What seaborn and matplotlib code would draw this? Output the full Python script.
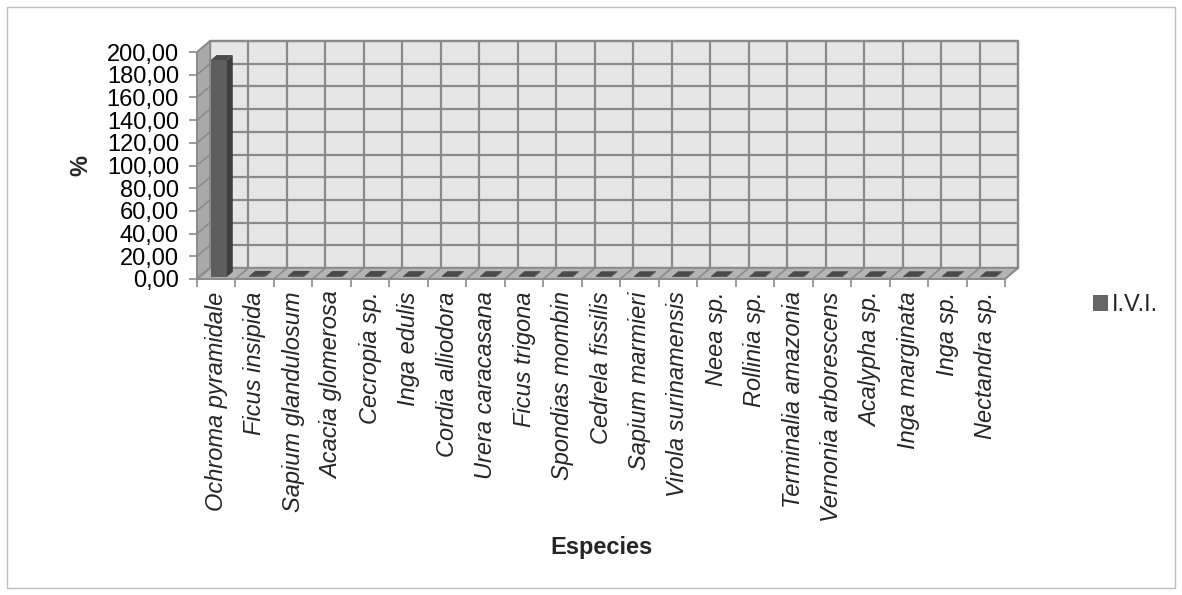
import matplotlib
matplotlib.use("Agg")
import matplotlib.pyplot as plt
from matplotlib.patches import Polygon, Rectangle
from matplotlib.ticker import FuncFormatter, FixedLocator
import seaborn as sns
import pandas as pd

especies = [
    "Ochroma pyramidale", "Ficus insipida", "Sapium glandulosum", "Acacia glomerosa",
    "Cecropia sp.", "Inga edulis", "Cordia alliodora", "Urera caracasana",
    "Ficus trigona", "Spondias mombin", "Cedrela fissilis", "Sapium marmieri",
    "Virola surinamensis", "Neea sp.", "Rollinia sp.", "Terminalia amazonia",
    "Vernonia arborescens", "Acalypha sp.", "Inga marginata", "Inga sp.",
    "Nectandra sp.",
]
ivi = [191.0, 0.8, 0.8, 0.7, 0.7, 0.6, 0.6, 0.6, 0.6, 0.5, 0.5,
       0.5, 0.5, 0.5, 0.5, 0.5, 0.5, 0.5, 0.5, 0.5, 0.5]
serie = "I.V.I."
y_ticks = [0, 20, 40, 60, 80, 100, 120, 140, 160, 180, 200]

df = pd.DataFrame({"Especies": especies, "valor": ivi, "serie": serie})

sns.set_theme(style="white")
plt.rcParams["font.family"] = ["Liberation Sans", "DejaVu Sans"]

FW, FH = 1182, 595
fig = plt.figure(figsize=(FW / 100, FH / 100), dpi=100)

# front plane of the 3D box, in pixels
x_left, x_right = 197, 1005
y_bottom, y_top = 279, 52
ax = fig.add_axes([x_left / FW, 1 - y_bottom / FH,
                   (x_right - x_left) / FW, (y_bottom - y_top) / FH])

n = len(especies)
xmin, xmax = -0.5, n - 0.5
ymin, ymax = 0, 200
sx = (xmax - xmin) / (x_right - x_left)
sy = (ymax - ymin) / (y_bottom - y_top)
Dx, Dy = 13 * sx, 11 * sy  # depth vector of the box

grid_c = "#8a8a8a"
wall_c = "#e6e6e6"
side_c = "#a9a9a9"
floor_c = "#b4b4b4"
fs = 17

sns.barplot(data=df, x="Especies", y="valor", hue="serie", palette=["#5c5c5c"],
            width=0.42, ax=ax, legend=True, zorder=10, linewidth=0)
ax.set_xlim(xmin, xmax)
ax.set_ylim(ymin, ymax)

# back wall
ax.add_patch(Rectangle((xmin + Dx, ymin + Dy), xmax - xmin, ymax - ymin,
                       facecolor=wall_c, edgecolor=grid_c, lw=1.6,
                       zorder=1, clip_on=False))
for yv in y_ticks:
    ax.plot([xmin + Dx, xmax + Dx], [yv + Dy, yv + Dy], color=grid_c, lw=1.6,
            zorder=2, clip_on=False, solid_capstyle="butt")
for k in range(n + 1):
    xb = xmin + k
    ax.plot([xb + Dx, xb + Dx], [ymin + Dy, ymax + Dy], color=grid_c, lw=1.6,
            zorder=2, clip_on=False)

# left wall
ax.add_patch(Polygon([(xmin, ymin), (xmin, ymax), (xmin + Dx, ymax + Dy),
                      (xmin + Dx, ymin + Dy)], closed=True, facecolor=side_c,
                     edgecolor=grid_c, lw=1.2, zorder=3, clip_on=False))
for yv in y_ticks:
    ax.plot([xmin, xmin + Dx], [yv, yv + Dy], color=grid_c, lw=1.2,
            zorder=4, clip_on=False)

# floor
ax.add_patch(Polygon([(xmin, ymin), (xmax, ymin), (xmax + Dx, ymin + Dy),
                      (xmin + Dx, ymin + Dy)], closed=True, facecolor=floor_c,
                     edgecolor=grid_c, lw=1.2, zorder=5, clip_on=False))
for k in range(n + 1):
    xb = xmin + k
    ax.plot([xb, xb + Dx], [ymin, ymin + Dy], color=grid_c, lw=1.2,
            zorder=6, clip_on=False)

# give the columns depth: shift front face, add side and top faces
f, d = 0.2, 0.45
for p in list(ax.patches):
    if p.get_zorder() != 10:
        continue
    x0, w, h = p.get_x(), p.get_width(), p.get_height()
    bx, by = x0 + f * Dx, f * Dy
    ex, ey = (f + d) * Dx, (f + d) * Dy
    p.set_x(bx)
    p.set_y(by)
    p.set_facecolor("#5e5e5e")
    p.set_clip_on(False)
    ax.add_patch(Polygon([(bx + w, by), (bx + w, by + h),
                          (x0 + w + ex, ey + h), (x0 + w + ex, ey)],
                         closed=True, facecolor="#3e3e3e", lw=0, zorder=10,
                         clip_on=False))
    ax.add_patch(Polygon([(bx, by + h), (bx + w, by + h),
                          (x0 + w + ex, ey + h), (x0 + ex, ey + h)],
                         closed=True, facecolor="#4a4a4a", lw=0, zorder=10,
                         clip_on=False))

# axes, ticks and labels
for s in ["top", "right"]:
    ax.spines[s].set_visible(False)
for s in ["left", "bottom"]:
    ax.spines[s].set_color(grid_c)
    ax.spines[s].set_linewidth(1.2)
    ax.spines[s].set_zorder(7)

ax.yaxis.set_major_locator(FixedLocator(y_ticks))
ax.yaxis.set_major_formatter(FuncFormatter(lambda v, _: f"{v:.2f}".replace(".", ",")))
ax.tick_params(axis="y", which="major", left=True, length=6, width=1.2,
               color=grid_c, labelsize=fs, pad=7, labelcolor="black")

ax.set_xticks(range(n))
ax.set_xticklabels(especies, rotation=90, fontstyle="italic", fontsize=fs)
ax.tick_params(axis="x", which="major", bottom=False, length=0, pad=9)
ax.set_xticks([xmin + k for k in range(n + 1)], minor=True)
ax.tick_params(axis="x", which="minor", bottom=True, length=6, width=1.2,
               color=grid_c)

ax.set_ylabel("%", fontsize=fs, fontweight="bold", labelpad=10)
ax.set_xlabel("Especies", fontsize=fs, fontweight="bold", labelpad=10)

leg = ax.legend(loc="center left", bbox_to_anchor=(1093 / FW, 1 - 305 / FH),
                bbox_transform=fig.transFigure, frameon=False, fontsize=fs,
                handlelength=0.6, handleheight=0.6, handletextpad=0.2,
                borderaxespad=0, borderpad=0)
for h in leg.legend_handles:
    h.set_facecolor("#666666")
    h.set_edgecolor("#555555")
    h.set_linewidth(0.6)

# chart border
fig.add_artist(Rectangle((7 / FW, 7 / FH), 1168 / FW, 581 / FH,
                         transform=fig.transFigure, fill=False,
                         edgecolor="#bfbfbf", lw=1.0))

fig.savefig("out.png", dpi=100)
